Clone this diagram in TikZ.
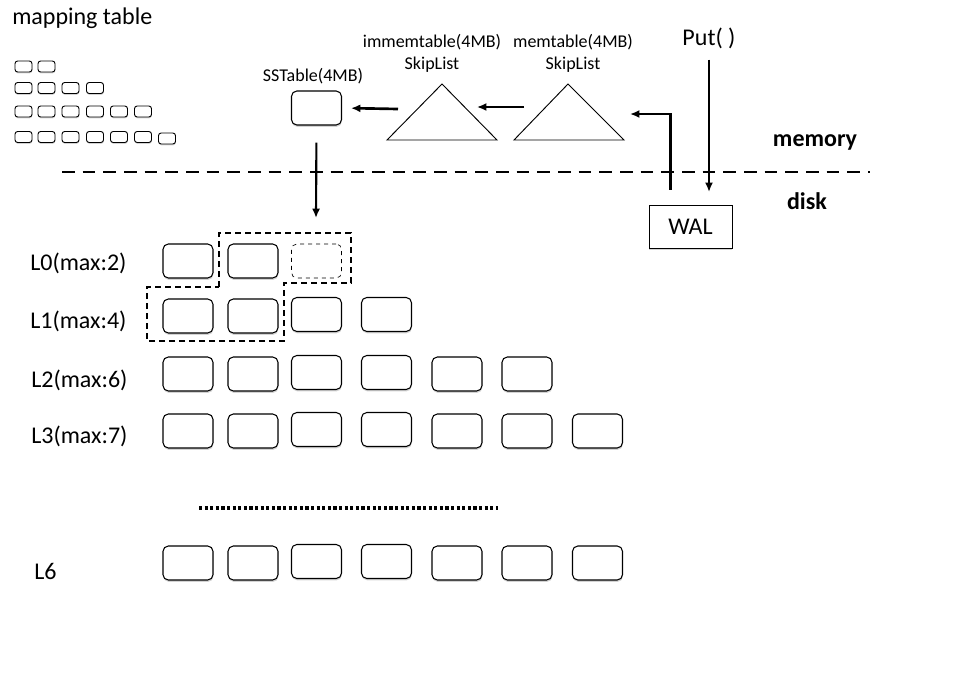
\documentclass[tikz,border=0pt]{standalone}
\usepackage{fontspec}
\setmainfont{Carlito}
\usetikzlibrary{shadows,arrows.meta}

\begin{document}
\begin{tikzpicture}[x=0.75pt,y=-0.75pt,
		caja/.style={draw,line width=0.8pt,rounded corners=4pt,fill=white,minimum width=37.5pt,minimum height=25.5pt,inner sep=0pt,drop shadow={shadow xshift=0.3pt,shadow yshift=-1.4pt,opacity=0.35}},
		cajavacia/.style={draw,dashed,line width=0.5pt,rounded corners=4pt,minimum width=37.5pt,minimum height=25.5pt,inner sep=0pt},
		cajita/.style={draw,line width=0.7pt,rounded corners=2pt,fill=white,minimum width=12.75pt,minimum height=8.25pt,inner sep=0pt,drop shadow={shadow xshift=0.2pt,shadow yshift=-1pt,opacity=0.35}},
		texto/.style={font=\fontsize{18}{21}\selectfont,inner sep=0pt},
		textito/.style={font=\fontsize{13.5}{16.5}\selectfont,inner sep=0pt,align=center},
		flecha/.style={-{Latex[length=7pt,width=6pt]},line width=2pt},
		separador/.style={line width=1.2pt,dash pattern=on 9.5pt off 6pt},
		compacta/.style={line width=1.3pt,dash pattern=on 4.5pt off 3pt}]
		\useasboundingbox (0,0) rectangle (967,696);

		%Tabla
		\node [texto,anchor=west] (tabla) at (12,18) {mapping table};
		\node [cajita] (t11) at (23.5,66.5) {};
		\node [cajita] (t12) at (46.5,66.5) {};
		\node [cajita] (t21) at (23.5,88) {};
		\node [cajita] (t22) at (46.5,88) {};
		\node [cajita] (t23) at (70.5,88) {};
		\node [cajita] (t24) at (95,88) {};
		\node [cajita] (t31) at (23.5,111.5) {};
		\node [cajita] (t32) at (46.5,111.5) {};
		\node [cajita] (t33) at (70.5,111.5) {};
		\node [cajita] (t34) at (95,111.5) {};
		\node [cajita] (t35) at (119,111.5) {};
		\node [cajita] (t36) at (143,111.5) {};
		\node [cajita] (t41) at (23.5,137) {};
		\node [cajita] (t42) at (46.5,137) {};
		\node [cajita] (t43) at (70.5,137) {};
		\node [cajita] (t44) at (95,137) {};
		\node [cajita] (t45) at (119,137) {};
		\node [cajita] (t46) at (143,137) {};
		\node [cajita] (t47) at (167,138.5) {};

		%Memoria
		\node [textito] (sst_t) at (313,76) {SSTable(4MB)};
		\node [caja] (sst) at (316.5,108) {};
		\node [textito] (inm_t) at (432,53) {immemtable(4MB)\\SkipList};
		\node [textito] (mem_t) at (573,53) {memtable(4MB)\\SkipList};
		\draw[line width=0.7pt] (387,140) -- (442,84) -- (497,140) -- cycle;
		\draw[line width=0.7pt] (514,140) -- (568,84) -- (624,140) -- cycle;
		\coordinate (inm_izq) at (398,109);
		\coordinate (inm_der) at (477,107);
		\coordinate (mem_izq) at (524,107);
		\coordinate (mem_der) at (630,114);
		\node [texto] (put) at (709,38) {Put(\ )};
		\node [texto,font=\fontsize{18}{21}\selectfont\bfseries] (memoria) at (815,142) {memory};
		\node [texto,font=\fontsize{18}{21}\selectfont\bfseries] (disco) at (807,201) {disk};
		\coordinate (sep_izq) at (62,172);
		\coordinate (sep_der) at (870,172);
		\node [draw,line width=0.7pt,fill=white,minimum width=62.25pt,minimum height=32.25pt,texto,drop shadow={shadow xshift=0.3pt,shadow yshift=-1.4pt,opacity=0.35}] (wal) at (690.5,226.5) {WAL};
		\coordinate (entrada) at (709,192);
		\coordinate (l0_llega) at (316,218);

		%Niveles
		\node [texto,anchor=west] (n0) at (30,263) {L0(max:2)};
		\node [texto,anchor=west] (n1) at (30,321) {L1(max:4)};
		\node [texto,anchor=west] (n2) at (31,380) {L2(max:6)};
		\node [texto,anchor=west] (n3) at (31,436) {L3(max:7)};
		\node [texto,anchor=west] (n6) at (34,571) {L6};

		\node [caja] (l0c1) at (188,261) {};
		\node [caja] (l0c2) at (253,261) {};
		\node [cajavacia] (l0c3) at (316.5,261) {};

		\node [caja] (l1c1) at (188,316) {};
		\node [caja] (l1c2) at (253,316) {};
		\node [caja] (l1c3) at (316.5,314.5) {};
		\node [caja] (l1c4) at (386.5,314.5) {};

		\node [caja] (l2c1) at (188,374) {};
		\node [caja] (l2c2) at (253,374) {};
		\node [caja] (l2c3) at (316.5,372.5) {};
		\node [caja] (l2c4) at (386.5,372.5) {};
		\node [caja] (l2c5) at (457,374) {};
		\node [caja] (l2c6) at (527,374) {};

		\node [caja] (l3c1) at (188,431) {};
		\node [caja] (l3c2) at (253,431) {};
		\node [caja] (l3c3) at (316.5,429.5) {};
		\node [caja] (l3c4) at (386.5,429.5) {};
		\node [caja] (l3c5) at (457,431) {};
		\node [caja] (l3c6) at (527,431) {};
		\node [caja] (l3c7) at (597.5,431) {};

		\node [caja] (l6c1) at (188,563) {};
		\node [caja] (l6c2) at (253,563) {};
		\node [caja] (l6c3) at (316.5,561.5) {};
		\node [caja] (l6c4) at (386.5,561.5) {};
		\node [caja] (l6c5) at (457,563) {};
		\node [caja] (l6c6) at (527,563) {};
		\node [caja] (l6c7) at (597.5,563) {};

		\coordinate (pun_izq) at (199,508);
		\coordinate (pun_der) at (498,508);

		%Lineas
		\draw[separador] (sep_izq)--(sep_der);
		\draw[line width=2.4pt,dash pattern=on 2.4pt off 1.8pt] (pun_izq)--(pun_der);
		\draw[compacta] (219,287) -- (219,233) -- (351,233) -- (351,283) -- (284,283) -- (284,341) -- (147,341) -- (147,287) -- cycle;

		%Arcos
		\draw[flecha] (mem_izq)--(inm_der);
		\draw[flecha,shorten >=6.75pt] (inm_izq)--(sst.east);
		\draw[flecha,line width=1.6pt,shorten <=12.75pt] (sst.south)--(l0_llega);
		\draw[flecha,line width=1.6pt,shorten <=8.25pt] (put.south)--(entrada);
		\draw[flecha] (wal.north west) ++(22,-15) |- (mem_der);
\end{tikzpicture}
\end{document}
